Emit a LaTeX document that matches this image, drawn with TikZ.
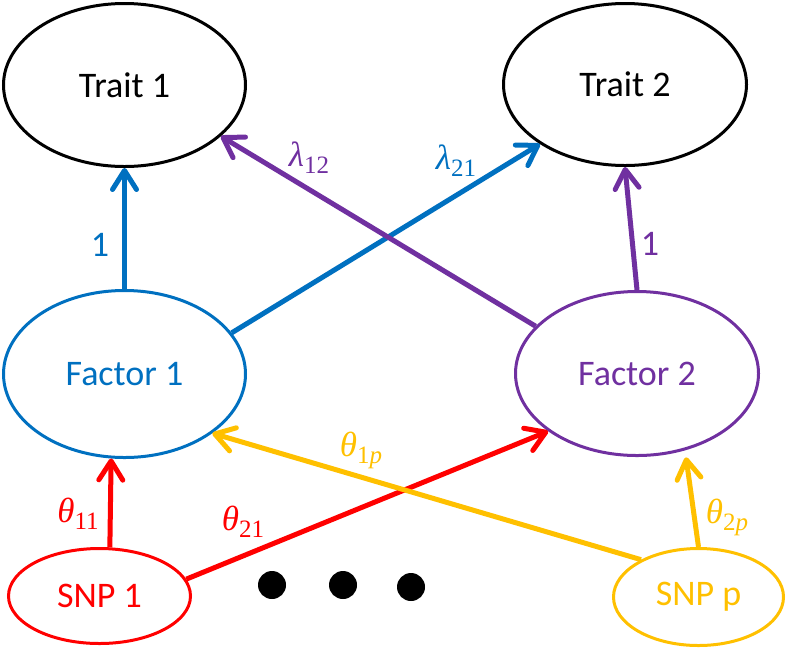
\documentclass[tikz,border=0pt]{standalone}
\usepackage{fontspec}
\setmainfont{Carlito}
\newfontfamily\grk{Liberation Serif}
\usetikzlibrary{arrows.meta,shapes.geometric}
\definecolor{cblue}{HTML}{0070C0}
\definecolor{cpurple}{HTML}{7030A0}
\definecolor{cred}{HTML}{FF0000}
\definecolor{cgold}{HTML}{FFC000}
\newcommand{\glab}[2]{{\grk\itshape\fontsize{35}{40}\selectfont #1}\raisebox{-7pt}{\grk\fontsize{25}{28}\selectfont #2}}
\begin{document}
\begin{tikzpicture}[x=1pt,y=-1pt,
  ell/.style={ellipse, draw, line width=3pt, inner sep=0pt, font=\fontsize{36}{40}\selectfont},
  conn/.style={line width=5pt, -{Straight Barb[length=19pt,width=24pt,round]}},
  lab/.style={inner sep=0pt},
  dot/.style={circle, fill=black, minimum size=28pt, inner sep=0pt}]
\useasboundingbox (0,0) rectangle (786,649);
% nodes
\node[ell, minimum width=242pt, minimum height=163pt] (t1) at (124.5,85) {Trait 1};
\node[ell, minimum width=243pt, minimum height=162pt] (t2) at (625,84.5) {Trait 2};
\node[ell, draw=cblue, text=cblue, minimum width=242pt, minimum height=167pt] (f1) at (124.5,374) {Factor 1};
\node[ell, draw=cpurple, text=cpurple, minimum width=243pt, minimum height=164pt] (f2) at (637,373.5) {Factor 2};
\node[ell, draw=cred, text=cred, minimum width=182pt, minimum height=95pt] (s1) at (99.5,596) {SNP 1};
\node[ell, draw=cgold, text=cgold, minimum width=170pt, minimum height=97pt] (sp) at (698.5,597) {SNP p};
\node[dot] (d1) at (272,585) {};
\node[dot] (d2) at (343,585) {};
\node[dot] (d3) at (411,587) {};
% connectors
\draw[conn, cblue] (f1.north) -- (t1.south);
\draw[conn, cblue] (f1.21.3) -- (t2.-145.8);
\draw[conn, cpurple] (f2.155) -- (t1.-28.5);
\draw[conn, cpurple] (f2.north) -- (t2.south);
\draw[conn, cred] (s1.78) -- (f1.-99.5);
\draw[conn, cred] (s1.11.9) -- (f2.-147.1);
\draw[conn, cgold] (sp.147.6) -- (f1.-34.6);
\draw[conn, cgold, shorten >=7pt] (sp.north) -- (f2.-58.3);
% labels
\node[lab, text=cblue, font=\fontsize{36}{40}\selectfont] (l1) at (100,245) {1};
\node[lab, text=cpurple] (l12) at (309,158) {\glab{λ}{12}};
\node[lab, text=cblue] (l21) at (456,161) {\glab{λ}{21}};
\node[lab, text=cpurple, font=\fontsize{36}{40}\selectfont] (l2) at (650,244) {1};
\node[lab, text=cred] (th11) at (78,514) {\glab{θ}{11}};
\node[lab, text=cred] (th21) at (243,522) {\glab{θ}{21}};
\node[lab, text=cgold] (th1p) at (361,450) {\glab{θ}{1\textit{p}}};
\node[lab, text=cgold] (th2p) at (727,517) {\glab{θ}{2\textit{p}}};
\end{tikzpicture}
\end{document}
